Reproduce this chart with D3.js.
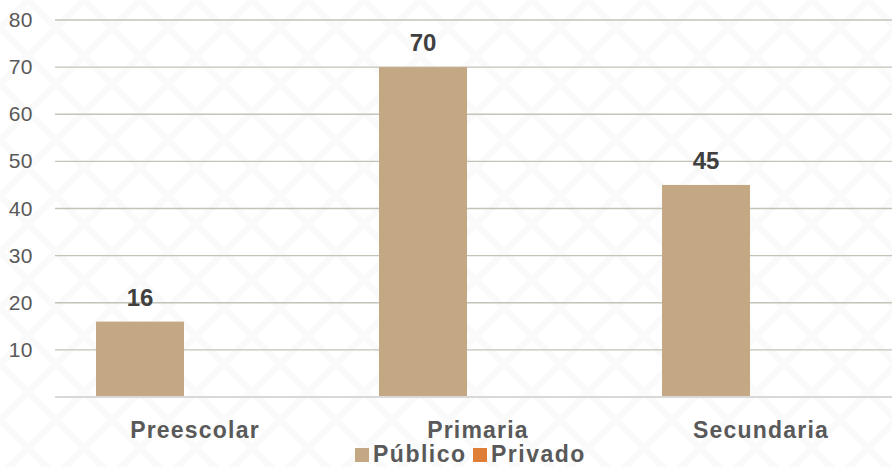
<!DOCTYPE html>
<html>
<head>
<meta charset="utf-8">
<script src="https://cdn.jsdelivr.net/npm/d3@7"></script>
<style>
  body { margin: 0; background: #fff; }
  svg { display: block; font-family: "Liberation Sans", Arial, sans-serif; }
</style>
</head>
<body>
<svg id="chart" width="892" height="467"></svg>
<script>
const categories = ['Preescolar', 'Primaria', 'Secundaria'];
const series = ['Público', 'Privado'];
const publico = [16, 70, 45];
const privado = [0, 0, 0];
const yTicks = [10, 20, 30, 40, 50, 60, 70, 80];

const colors = d3.scaleOrdinal().domain(series).range(['#C4A783', '#DE7E38']);

const width = 892;
const height = 467;
const svg = d3.select('#chart');

// faint diamond background
const defs = svg.append('defs');
const pat = defs.append('pattern')
  .attr('id', 'bg')
  .attr('patternUnits', 'userSpaceOnUse')
  .attr('width', 56).attr('height', 56);
pat.append('path')
  .attr('d', 'M0,28 L28,0 L56,28 L28,56 Z')
  .attr('fill', 'none')
  .attr('stroke', '#fafafa')
  .attr('stroke-width', 7);
svg.append('rect').attr('width', width).attr('height', height).attr('fill', 'url(#bg)');

const x0 = d3.scaleBand().domain(categories).range([53.5, 902.5]).padding(0);
const mid = x0.bandwidth() / 2;
const x1 = d3.scaleBand().domain(series)
  .range([mid - 110, mid + 110])
  .paddingInner(0.2).paddingOuter(0.1);
const y = d3.scaleLinear().domain([0, 80]).range([397, 20]);

// gridlines
svg.append('g')
  .selectAll('line')
  .data(yTicks)
  .join('line')
  .attr('x1', 55).attr('x2', width)
  .attr('y1', d => y(d)).attr('y2', d => y(d))
  .attr('stroke', '#c3c3b8')
  .attr('stroke-width', 1.3);

// y tick labels
svg.append('g')
  .selectAll('text')
  .data(yTicks)
  .join('text')
  .attr('x', 33)
  .attr('y', d => y(d) + 7)
  .attr('text-anchor', 'end')
  .attr('font-size', 21)
  .attr('letter-spacing', 0.5)
  .attr('fill', '#595959')
  .text(d => d);

// bars
const rows = categories.map((c, i) => ({ cat: c, values: [publico[i], privado[i]] }));
const groups = svg.append('g')
  .selectAll('g')
  .data(rows)
  .join('g')
  .attr('transform', d => `translate(${x0(d.cat)},0)`);

groups.selectAll('rect')
  .data(d => series.map((s, j) => ({ s, v: d.values[j] })))
  .join('rect')
  .attr('x', d => x1(d.s))
  .attr('y', d => y(d.v))
  .attr('width', x1.bandwidth())
  .attr('height', d => y(0) - y(d.v))
  .attr('fill', d => colors(d.s));

// value labels (only Público)
groups.append('text')
  .attr('x', x1('Público') + x1.bandwidth() / 2)
  .attr('y', d => y(d.values[0]) - 16)
  .attr('text-anchor', 'middle')
  .attr('font-size', 24)
  .attr('font-weight', 'bold')
  .attr('fill', '#404040')
  .text(d => d.values[0]);

// x axis line
svg.append('line')
  .attr('x1', 55).attr('x2', width)
  .attr('y1', y(0)).attr('y2', y(0))
  .attr('stroke', '#d9d9d9')
  .attr('stroke-width', 2);

// category labels
svg.append('g')
  .selectAll('text')
  .data(categories)
  .join('text')
  .attr('x', d => x0(d) + mid)
  .attr('y', 438)
  .attr('text-anchor', 'middle')
  .attr('font-size', 23)
  .attr('font-weight', 'bold')
  .attr('letter-spacing', 1.2)
  .attr('fill', '#595959')
  .text(d => d);

// legend
const legend = svg.append('g').attr('transform', 'translate(355,448)');
const legendX = [0, 118];
series.forEach((s, i) => {
  const g = legend.append('g').attr('transform', `translate(${legendX[i]},0)`);
  g.append('rect').attr('width', 14).attr('height', 14).attr('fill', colors(s));
  g.append('text')
    .attr('x', 18).attr('y', 14)
    .attr('font-size', 23)
    .attr('font-weight', 'bold')
    .attr('letter-spacing', 1.5)
    .attr('fill', '#595959')
    .text(s);
});
</script>
</body>
</html>
